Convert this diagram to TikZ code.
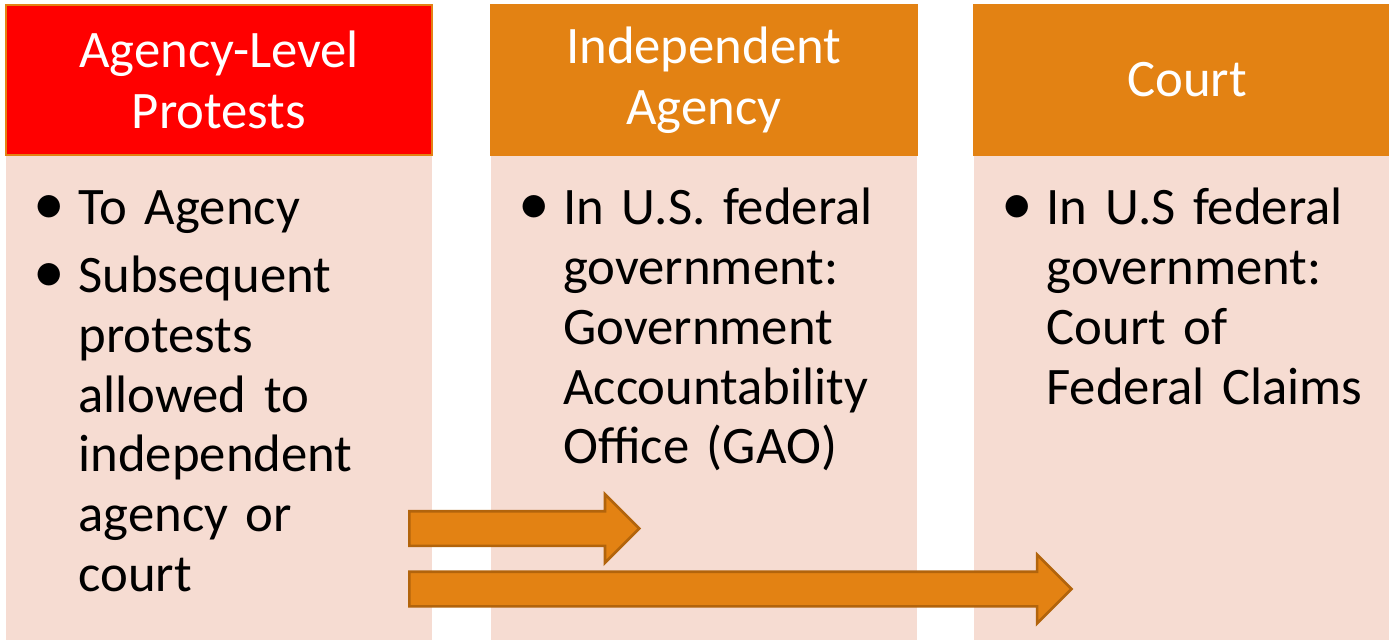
\documentclass[tikz,border=0pt]{standalone}
\usepackage{fontspec}
\setmainfont{Carlito}[WordSpace=0.6]
\usetikzlibrary{positioning,shapes.arrows}
\definecolor{hdorange}{RGB}{227,130,19}
\definecolor{hdred}{RGB}{255,0,0}
\definecolor{peach}{RGB}{246,220,210}
\definecolor{arrowline}{RGB}{178,100,12}

\newcommand{\bitem}[1]{\par\noindent\makebox[0.9cm][l]{\strut\scalebox{1.2}{\textbullet}}\parbox[t]{6.8cm}{\raggedright #1}}

\begin{document}
\begin{tikzpicture}[
  head/.style = {
    draw = hdorange,
    line width = 1pt,
    fill = hdorange,
    text = white,
    rectangle,
    minimum width = 8.52cm,
    minimum height = 3.0cm,
    inner sep = 0pt,
    align = center,
    font = \fontsize{30}{35}\selectfont,
  },
  body/.style = {
    rectangle,
    fill = peach,
    minimum width = 8.52cm,
    minimum height = 10.0cm,
    inner sep = 0pt,
  },
  items/.style = {
    text width = 7.7cm,
    inner sep = 0pt,
    font = \fontsize{30}{34}\selectfont\frenchspacing,
    execute at begin node = {\parskip=4.5pt},
  },
  bigarrow/.style = {
    draw = arrowline,
    line width = 1.5pt,
    fill = hdorange,
    single arrow,
    single arrow head extend = 0.34cm,
    inner xsep = 0pt,
    inner ysep = 0.32cm,
    anchor = west,
  },
]

  \useasboundingbox (0,0) rectangle (27.78,-12.8);
  \clip (0,0) rectangle (27.78,-12.8);

  % headers
  \node[head,fill=hdred] (hd1) at (4.38,-1.6) {Agency-Level\\Protests};
  \node[head] (hd2) [right=1.14cm of hd1] {Independent\\Agency};
  \node[head] (hd3) [right=1.11cm of hd2] {Court};

  % bodies
  \node[body] (bd1) [below=0pt of hd1] {};
  \node[body] (bd2) [below=0pt of hd2] {};
  \node[body] (bd3) [below=0pt of hd3] {};

  \node[items] (it1) [below right=0.02cm and 0.55cm of bd1.north west] {%
    \bitem{To Agency}
    \bitem{Subsequent\\protests\\allowed to\\independent\\agency or\\court}};
  \node[items] (it2) [below right=0.02cm and 0.55cm of bd2.north west] {%
    \bitem{In U.S. federal\\government:\\Government\\Accountability\\Office (GAO)}};
  \node[items] (it3) [below right=0.02cm and 0.55cm of bd3.north west] {%
    \bitem{In U.S federal\\government:\\Court of\\Federal Claims}};

  % arrows
  \node[bigarrow,minimum height=4.6cm] (ar1) at (8.16,-10.57) {};
  \node[bigarrow,minimum height=13.24cm] (ar2) at (8.16,-11.78) {};

\end{tikzpicture}
\end{document}
